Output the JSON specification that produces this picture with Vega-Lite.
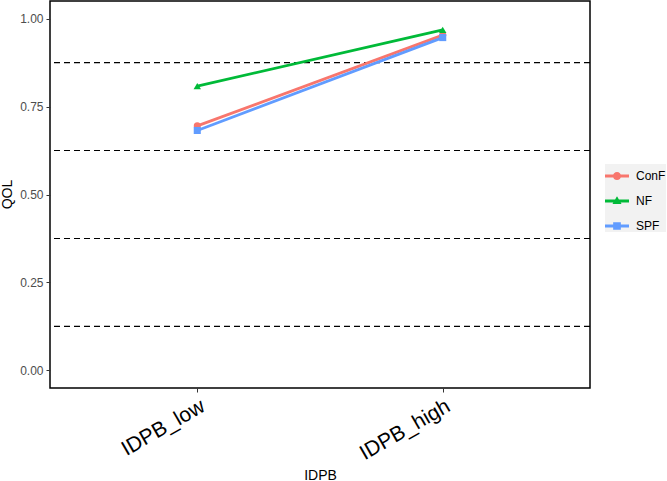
{
  "$schema": "https://vega.github.io/schema/vega-lite/v6.json",
  "width": 540,
  "height": 387,
  "autosize": "none",
  "padding": {"left": 50, "top": 1, "right": 77, "bottom": 93},
  "background": "white",
  "config": {
    "font": "Liberation Sans",
    "view": {"stroke": "black", "strokeWidth": 1.5},
    "axis": {"grid": false, "domain": false, "tickColor": "#333333", "tickSize": 4, "tickWidth": 1},
    "legend": {"title": null, "orient": "none", "legendX": 555, "legendY": 163, "labelFontSize": 12, "labelColor": "black", "symbolSize": 576, "rowPadding": 7, "labelOffset": 7, "fillColor": "#f2f2f2", "padding": 0}
  },
  "datasets": {
    "main": [
      {"IDPB": "IDPB_low", "group": "ConF", "QOL": 0.695},
      {"IDPB": "IDPB_high", "group": "ConF", "QOL": 0.953},
      {"IDPB": "IDPB_low", "group": "NF", "QOL": 0.808},
      {"IDPB": "IDPB_high", "group": "NF", "QOL": 0.968},
      {"IDPB": "IDPB_low", "group": "SPF", "QOL": 0.682},
      {"IDPB": "IDPB_high", "group": "SPF", "QOL": 0.946}
    ],
    "refs": [{"y": 0.125}, {"y": 0.375}, {"y": 0.625}, {"y": 0.875}]
  },
  "encoding": {
    "x": {"field": "IDPB", "type": "nominal", "sort": ["IDPB_low", "IDPB_high"],
          "scale": {"type": "point", "padding": 0.6},
          "axis": {"title": "IDPB", "labelAngle": -30, "labelFontSize": 21, "labelColor": "black", "labelAlign": "right", "labelBaseline": "top", "labelPadding": 3, "titleFontSize": 14, "titleFontWeight": "normal", "titleColor": "black", "titleY": 80, "titleBaseline": "top"}},
    "y": {"field": "QOL", "type": "quantitative",
          "scale": {"domain": [-0.05, 1.05], "nice": false, "zero": false},
          "axis": {"title": "QOL", "values": [0, 0.25, 0.5, 0.75, 1], "format": ".2f", "labelFontSize": 12, "labelColor": "#4d4d4d", "labelPadding": 3, "titleFontSize": 14, "titleFontWeight": "normal", "titleColor": "black", "titleX": -43, "titleY": 193, "titleBaseline": "middle", "titleAngle": -90}},
    "color": {"field": "group", "type": "nominal", "scale": {"domain": ["ConF", "NF", "SPF"], "range": ["#F8766D", "#00BA38", "#619CFF"]},
              "legend": {"encode": {"symbols": {"update": {
                "fill": {"scale": "color", "field": "value"},
                "stroke": {"value": "transparent"},
                "strokeWidth": {"value": 0},
                "shape": [
                  {"test": "datum.value === 'ConF'", "value": "M-1,-0.12H1V0.12H-1Z M-0.34,0A0.34,0.34 0 1,1 0.34,0A0.34,0.34 0 1,1 -0.34,0Z"},
                  {"test": "datum.value === 'NF'", "value": "M-1,-0.12H1V0.12H-1Z M0,-0.4L0.38,0.26H-0.38Z"},
                  {"value": "M-1,-0.12H1V0.12H-1Z M-0.32,-0.32H0.32V0.32H-0.32Z"}
                ]}}}}}
  },
  "layer": [
    {
      "data": {"name": "refs"},
      "mark": {"type": "rule", "color": "black", "strokeDash": [6, 4], "strokeWidth": 1.2},
      "encoding": {
        "x": null,
        "color": null,
        "y": {"field": "y", "type": "quantitative", "scale": {"domain": [-0.05, 1.05], "nice": false, "zero": false}}
      }
    },
    {
      "data": {"name": "main"},
      "mark": {"type": "line", "strokeWidth": 2.8}
    },
    {
      "data": {"name": "main"},
      "transform": [{"filter": "datum.group === 'ConF'"}],
      "mark": {"type": "point", "filled": true, "size": 50, "opacity": 1, "shape": "circle"}
    },
    {
      "data": {"name": "main"},
      "transform": [{"filter": "datum.group === 'NF'"}],
      "mark": {"type": "point", "filled": true, "size": 55, "opacity": 1, "shape": "triangle-up"}
    },
    {
      "data": {"name": "main"},
      "transform": [{"filter": "datum.group === 'SPF'"}],
      "mark": {"type": "point", "filled": true, "size": 50, "opacity": 1, "shape": "square"}
    }
  ]
}
